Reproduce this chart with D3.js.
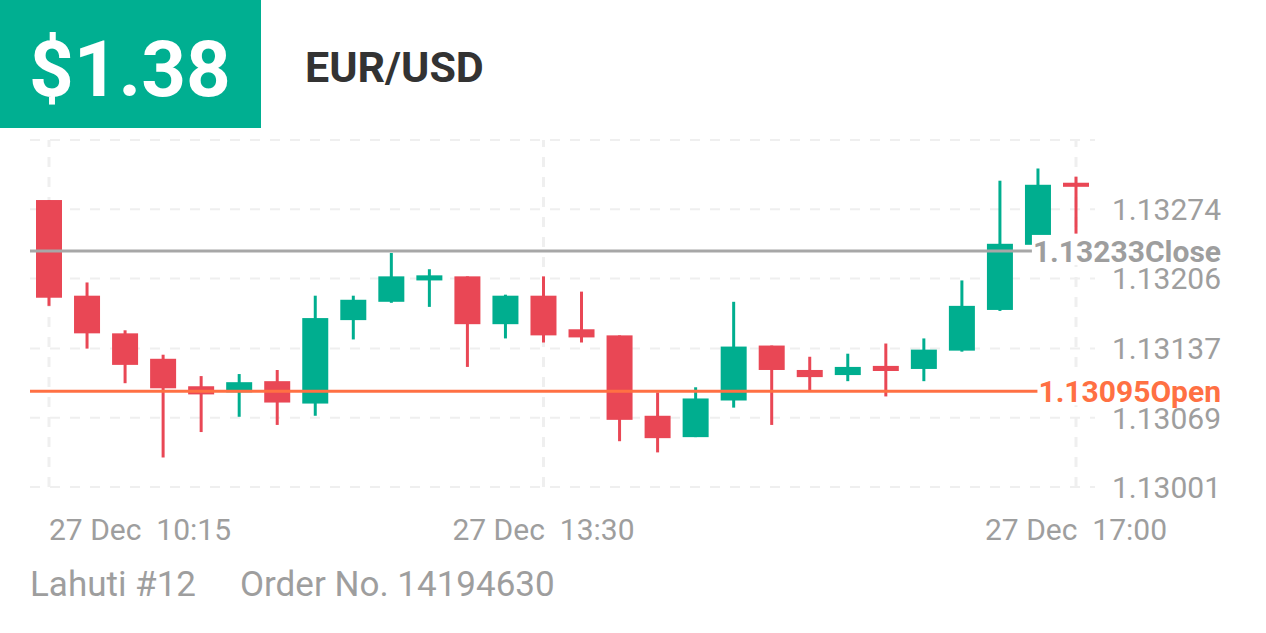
<!DOCTYPE html>
<html>
<head>
<meta charset="utf-8">
<script src="https://cdn.jsdelivr.net/npm/d3@7/dist/d3.min.js"></script>
<style>
  html, body { margin: 0; padding: 0; background: #ffffff; }
  svg { display: block; font-family: Roboto, "Noto Sans", sans-serif; }
</style>
</head>
<body>
<svg id="chart" width="1266" height="633"></svg>
<script>
// ---- data ----
const times = ["10:15","10:30","10:45","11:00","11:15","11:30","11:45","12:00","12:15","12:30","12:45","13:00","13:15","13:30",
               "13:45","14:00","14:15","14:30","14:45","15:00","15:15","15:30","15:45","16:00","16:15","16:30","16:45","17:00"];
const opens  = [1.13283,1.13189,1.13152,1.13127,1.13100,1.13094,1.13105,1.13083,1.13165,1.13183,1.13204,1.13208,1.13161,1.13189,
                1.13156,1.13150,1.13071,1.13050,1.13086,1.13140,1.13116,1.13111,1.13120,1.13117,1.13135,1.13175,1.13239,1.13300];
const highs  = [1.13283,1.13202,1.13155,1.13131,1.13110,1.13112,1.13116,1.13189,1.13189,1.13231,1.13215,1.13208,1.13190,1.13208,
                1.13193,1.13150,1.13094,1.13099,1.13183,1.13140,1.13129,1.13132,1.13142,1.13147,1.13204,1.13302,1.13314,1.13306];
const lows   = [1.13179,1.13137,1.13103,1.13030,1.13055,1.13070,1.13062,1.13071,1.13146,1.13182,1.13178,1.13119,1.13147,1.13143,
                1.13143,1.13046,1.13035,1.13050,1.13079,1.13062,1.13096,1.13105,1.13090,1.13105,1.13134,1.13174,1.13239,1.13250];
const closes = [1.13187,1.13152,1.13121,1.13098,1.13092,1.13104,1.13084,1.13167,1.13185,1.13208,1.13209,1.13161,1.13189,1.13150,
                1.13148,1.13067,1.13049,1.13088,1.13139,1.13116,1.13109,1.13119,1.13115,1.13136,1.13179,1.13240,1.13298,1.13296];
const yTicks = [1.13001,1.13069,1.13137,1.13206,1.13274,1.13342];
const yTickLabels = ["1.13001","1.13069","1.13137","1.13206","1.13274",""];
const xTicks = ["10:15","13:30","17:00"];
const xTickLabels = ["27 Dec  10:15","27 Dec  13:30","27 Dec  17:00"];
const openPrice = 1.13095, openLabel = "1.13095Open";
const closePrice = 1.13233, closeLabel = "1.13233Close";
const priceText = "$1.38", pairText = "EUR/USD";
const footLeft = "Lahuti #12", footRight = "Order No. 14194630";

// ---- setup ----
const svg = d3.select("#chart");
const GREEN = "#00ae8f", RED = "#e94755", ORANGE = "#ff7043", GREY = "#a7a7a7", LABEL = "#9e9e9e", GRID = "#efefef";
const parse = d3.timeParse("%H:%M");
const data = times.map((t,i)=>({t:parse(t),o:opens[i],h:highs[i],l:lows[i],c:closes[i]}));

const x = d3.scaleTime().domain([parse("10:15"), parse("17:00")]).range([49, 1076]);
const y = d3.scaleLinear().domain([1.13001, 1.13342]).range([487, 140]);

// header
svg.append("rect").attr("x",0).attr("y",0).attr("width",261).attr("height",128).attr("fill","#00af91");
svg.append("text").attr("x",29).attr("y",96).attr("fill","#fff").attr("font-size",78).attr("font-weight",700).text(priceText);
svg.append("text").attr("x",305).attr("y",82).attr("fill","#333").attr("font-size",43).attr("font-weight",700).text(pairText);

// grid
const g = svg.append("g");
g.selectAll("line.h").data(yTicks).join("line").attr("class","h")
  .attr("x1",30).attr("x2",1095).attr("y1",d=>y(d)).attr("y2",d=>y(d))
  .attr("stroke",GRID).attr("stroke-width",2).attr("stroke-dasharray","10,10");
g.selectAll("line.v").data(xTicks).join("line").attr("class","v")
  .attr("x1",d=>x(parse(d))).attr("x2",d=>x(parse(d))).attr("y1",487).attr("y2",140)
  .attr("stroke",GRID).attr("stroke-width",3).attr("stroke-dasharray","10,10");

// candles
const cw = 26;
const cg = svg.append("g");
const c = cg.selectAll("g").data(data).join("g");
c.append("line").attr("x1",d=>x(d.t)).attr("x2",d=>x(d.t)).attr("y1",d=>y(d.h)).attr("y2",d=>y(d.l))
  .attr("stroke",d=>d.c>=d.o?GREEN:RED).attr("stroke-width",3);
c.append("rect").attr("x",d=>x(d.t)-cw/2).attr("width",cw)
  .attr("y",d=>y(Math.max(d.o,d.c))).attr("height",d=>Math.max(3,Math.abs(y(d.o)-y(d.c))))
  .attr("fill",d=>d.c>=d.o?GREEN:RED);

// y tick labels
svg.append("g").selectAll("text").data(yTicks.filter((d,i)=>yTickLabels[i])).join("text")
  .attr("x",1221).attr("y",d=>y(d)).attr("dy","0.36em").attr("text-anchor","end")
  .attr("font-size",30).attr("fill",LABEL).text((d,i)=>yTickLabels[i]);

// open / close lines with labels
function refLine(v, label, color, lineColor){
  const gg = svg.append("g");
  const line = gg.append("line").attr("x1",30).attr("y1",y(v)).attr("y2",y(v)).attr("stroke",lineColor).attr("stroke-width",3);
  const bg = gg.append("rect").attr("fill","#fff");
  const t = gg.append("text").attr("x",1221).attr("y",y(v)).attr("dy","0.36em").attr("text-anchor","end")
    .attr("font-size",30).attr("font-weight",700).attr("fill",color).text(label);
  const b = t.node().getBBox();
  bg.attr("x",b.x-1).attr("y",y(v)-16).attr("width",b.width+2).attr("height",30);
  line.attr("x2",b.x);
}
refLine(closePrice, closeLabel, LABEL, GREY);
refLine(openPrice, openLabel, ORANGE, ORANGE);

// x labels
svg.append("g").selectAll("text").data(xTicks).join("text")
  .attr("x",d=>x(parse(d))).attr("y",540)
  .attr("text-anchor",(d,i)=>i===0?"start":"middle")
  .attr("font-size",30).attr("fill",LABEL).style("white-space","pre")
  .text((d,i)=>xTickLabels[i]);

// footer
svg.append("text").attr("x",30).attr("y",596).attr("font-size",35).attr("fill",LABEL).text(footLeft);
svg.append("text").attr("x",240).attr("y",596).attr("font-size",35).attr("fill",LABEL).text(footRight);
</script>
</body>
</html>
